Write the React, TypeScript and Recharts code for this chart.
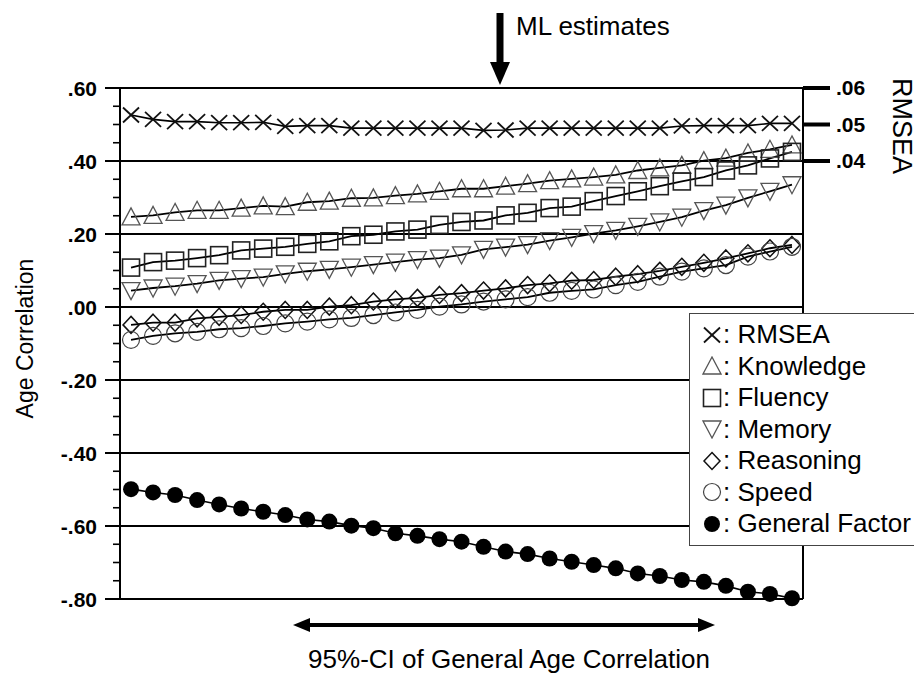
import React from 'react';
import { ComposedChart, Line, XAxis, YAxis, ReferenceLine, Label } from 'recharts';

const FONT = '"Liberation Sans", Arial, Helvetica, sans-serif';

// evaluation points across the 95%-CI of the general age correlation
const ciSteps = [0, 1, 2, 3, 4, 5, 6, 7, 8, 9, 10, 11, 12, 13, 14, 15, 16, 17, 18, 19, 20, 21, 22, 23, 24, 25, 26, 27, 28, 29, 30];

const rmsea = [0.0526, 0.0514, 0.0508, 0.0508, 0.0505, 0.0505, 0.0506, 0.0495, 0.0497, 0.0497, 0.049, 0.049, 0.049, 0.049, 0.049, 0.049, 0.0484, 0.0485, 0.049, 0.049, 0.049, 0.049, 0.049, 0.049, 0.049, 0.0496, 0.0497, 0.0497, 0.0497, 0.0503, 0.0503];
const knowledge = [0.247, 0.251, 0.259, 0.265, 0.265, 0.271, 0.277, 0.275, 0.287, 0.29, 0.298, 0.299, 0.305, 0.31, 0.317, 0.324, 0.324, 0.331, 0.338, 0.346, 0.351, 0.356, 0.362, 0.374, 0.381, 0.388, 0.401, 0.408, 0.422, 0.432, 0.444];
const fluency = [0.108, 0.123, 0.127, 0.134, 0.142, 0.155, 0.16, 0.165, 0.173, 0.18, 0.194, 0.198, 0.207, 0.212, 0.225, 0.233, 0.237, 0.251, 0.258, 0.271, 0.275, 0.29, 0.304, 0.317, 0.331, 0.344, 0.356, 0.374, 0.388, 0.407, 0.425];
const memory = [0.045, 0.052, 0.057, 0.064, 0.073, 0.078, 0.082, 0.091, 0.098, 0.103, 0.109, 0.116, 0.123, 0.13, 0.134, 0.143, 0.158, 0.164, 0.171, 0.182, 0.191, 0.201, 0.21, 0.221, 0.233, 0.246, 0.264, 0.279, 0.299, 0.317, 0.335];
const reasoning = [-0.049, -0.043, -0.043, -0.031, -0.027, -0.022, -0.013, -0.008, -0.008, 0.001, 0.005, 0.015, 0.021, 0.025, 0.033, 0.038, 0.045, 0.051, 0.06, 0.065, 0.072, 0.074, 0.083, 0.09, 0.099, 0.11, 0.121, 0.133, 0.147, 0.161, 0.17];
const speed = [-0.09, -0.079, -0.072, -0.068, -0.061, -0.058, -0.052, -0.045, -0.04, -0.034, -0.03, -0.022, -0.015, -0.008, 0.001, 0.007, 0.015, 0.021, 0.027, 0.039, 0.044, 0.048, 0.06, 0.069, 0.083, 0.097, 0.106, 0.115, 0.138, 0.152, 0.165];
const general = [-0.499, -0.508, -0.515, -0.529, -0.541, -0.552, -0.561, -0.57, -0.582, -0.588, -0.599, -0.606, -0.62, -0.627, -0.636, -0.643, -0.657, -0.67, -0.677, -0.689, -0.698, -0.707, -0.716, -0.73, -0.737, -0.748, -0.753, -0.764, -0.78, -0.786, -0.798];

const leftTicks = [-0.8, -0.75, -0.7, -0.65, -0.6, -0.55, -0.5, -0.45, -0.4, -0.35, -0.3, -0.25, -0.2, -0.15, -0.1, -0.05, 0, 0.05, 0.1, 0.15, 0.2, 0.25, 0.3, 0.35, 0.4, 0.45, 0.5, 0.55, 0.6];
const gridValues = [0.6, 0.4, 0.2, 0, -0.2, -0.4, -0.6, -0.8];
const rmseaTicks = [0.04, 0.05, 0.06];

const legendItems = [
  { kind: 'cross', name: 'RMSEA' },
  { kind: 'triUp', name: 'Knowledge' },
  { kind: 'square', name: 'Fluency' },
  { kind: 'triDown', name: 'Memory' },
  { kind: 'diamond', name: 'Reasoning' },
  { kind: 'circle', name: 'Speed' },
  { kind: 'dot', name: 'General Factor' },
];

const rows = ciSteps.map((step, i) => ({
  step,
  rmsea: rmsea[i],
  knowledge: knowledge[i],
  fluency: fluency[i],
  memory: memory[i],
  reasoning: reasoning[i],
  speed: speed[i],
  general: general[i],
}));

const fmt = (v: number) => {
  const s = Math.abs(v).toFixed(2).replace(/^0/, '');
  return v < -1e-9 ? '-' + s : s;
};

function Marker({ kind, cx, cy }: { kind: string; cx: number; cy: number }) {
  switch (kind) {
    case 'cross':
      return (
        <g stroke="#111" strokeWidth={1.8}>
          <line x1={cx - 8} y1={cy - 7.5} x2={cx + 8} y2={cy + 7.5} />
          <line x1={cx - 8} y1={cy + 7.5} x2={cx + 8} y2={cy - 7.5} />
        </g>
      );
    case 'triUp':
      return <polygon points={`${cx},${cy - 9} ${cx - 9},${cy + 8} ${cx + 9},${cy + 8}`} fill="none" stroke="#555" strokeWidth={1.3} />;
    case 'triDown':
      return <polygon points={`${cx},${cy + 9} ${cx - 9},${cy - 8} ${cx + 9},${cy - 8}`} fill="none" stroke="#555" strokeWidth={1.3} />;
    case 'square':
      return <rect x={cx - 8.5} y={cy - 8.5} width={17} height={17} fill="none" stroke="#222" strokeWidth={1.6} />;
    case 'diamond':
      return <polygon points={`${cx},${cy - 8.5} ${cx + 8},${cy} ${cx},${cy + 8.5} ${cx - 8},${cy}`} fill="none" stroke="#111" strokeWidth={1.5} />;
    case 'circle':
      return <circle cx={cx} cy={cy} r={8.5} fill="none" stroke="#444" strokeWidth={1.2} />;
    default:
      return <circle cx={cx} cy={cy} r={8} fill="#000" />;
  }
}

const makeDot = (kind: string) => (p: any) => <Marker key={`${kind}-${p.index}`} kind={kind} cx={p.cx} cy={p.cy} />;

function LeftTick(props: any) {
  const { x, y, payload } = props;
  const v = payload.value;
  const major = Math.round(v * 100) % 20 === 0;
  return (
    <g>
      <line x1={x - (major ? 15 : 7)} x2={x} y1={y} y2={y} stroke="#000" strokeWidth={major ? 2 : 1.6} />
      {major && (
        <text x={x - 23} y={y} textAnchor="end" dominantBaseline="central" fontFamily={FONT} fontWeight={700} fontSize={21} fill="#000">
          {fmt(v)}
        </text>
      )}
    </g>
  );
}

const LeftTitle = (props: any) => {
  const vb = props.viewBox;
  const cx = 17;
  const cy = vb.y + vb.height / 2 - 5;
  return (
    <text x={cx} y={cy} transform={`rotate(-90 ${cx} ${cy})`} textAnchor="middle" dominantBaseline="central" fontFamily={FONT} fontSize={23} fill="#000">
      Age Correlation
    </text>
  );
};

export default function App() {
  const series = [
    { key: 'rmsea', kind: 'cross', axis: 'right', width: 1.6 },
    { key: 'knowledge', kind: 'triUp', axis: 'left', width: 1.8 },
    { key: 'fluency', kind: 'square', axis: 'left', width: 1.8 },
    { key: 'memory', kind: 'triDown', axis: 'left', width: 1.8 },
    { key: 'reasoning', kind: 'diamond', axis: 'left', width: 1.8 },
    { key: 'speed', kind: 'circle', axis: 'left', width: 1.8 },
    { key: 'general', kind: 'dot', axis: 'left', width: 1.6 },
  ];

  return (
    <div style={{ position: 'relative', width: 906, height: 667, fontFamily: FONT }}>
      <ComposedChart width={906} height={667} data={rows} margin={{ top: 80, right: 0, bottom: 76, left: 0 }}>
        <XAxis type="number" dataKey="step" domain={[-0.5, 30.5]} hide />
        <YAxis
          yAxisId="left"
          orientation="left"
          width={112}
          domain={[-0.8, 0.6]}
          ticks={leftTicks}
          interval={0}
          tickSize={0}
          tickMargin={0}
          tickLine={false}
          axisLine={{ stroke: '#000', strokeWidth: 2 }}
          tick={<LeftTick />}
        >
          <Label content={<LeftTitle />} />
        </YAxis>
        <YAxis
          yAxisId="right"
          orientation="right"
          width={111}
          domain={[-0.08, 0.06]}
          ticks={rmseaTicks}
          interval={0}
          tickSize={27}
          tickMargin={6}
          tickFormatter={fmt}
          axisLine={{ stroke: '#000', strokeWidth: 2 }}
          tickLine={{ stroke: '#000', strokeWidth: 4 }}
          tick={{ fill: '#000', fontSize: 21, fontWeight: 700, fontFamily: FONT }}
        />
        {gridValues.map((v) => (
          <ReferenceLine key={v} yAxisId="left" y={v} stroke="#000" strokeWidth={2} />
        ))}
        {series.map((s) => (
          <Line
            key={s.key}
            yAxisId={s.axis}
            dataKey={s.key}
            type="linear"
            stroke="#000"
            strokeWidth={s.width}
            dot={makeDot(s.kind)}
            activeDot={false}
            isAnimationActive={false}
          />
        ))}
      </ComposedChart>

      <svg width={906} height={667} style={{ position: 'absolute', left: 0, top: 0, pointerEvents: 'none', overflow: 'visible' }}>
        <g transform="translate(-8,-8)">
          <line x1={500} y1={13} x2={500} y2={64} stroke="#000" strokeWidth={7} />
          <polygon points="490,62 510,62 500,85" fill="#000" />
          <text x={516} y={35} fontFamily={FONT} fontSize={26} fill="#000">ML estimates</text>
          <text x={902} y={126} transform="rotate(90 902 126)" textAnchor="middle" dominantBaseline="central" fontFamily={FONT} fontSize={27} fill="#000">RMSEA</text>
          <line x1={305} y1={625} x2={703} y2={625} stroke="#000" strokeWidth={4} />
          <polygon points="293,625 310,618 310,632" fill="#000" />
          <polygon points="715,625 698,618 698,632" fill="#000" />
          <text x={509} y={668} textAnchor="middle" fontFamily={FONT} fontSize={26} fill="#000">95%-CI of General Age Correlation</text>
        </g>
      </svg>

      <div
        style={{
          position: 'absolute',
          left: 681,
          top: 305,
          width: 233,
          height: 233,
          boxSizing: 'border-box',
          background: '#fff',
          border: '1.5px solid #444',
          padding: '5px 0 0 12px',
          fontSize: 26,
          color: '#000',
        }}
      >
        {legendItems.map((it) => (
          <div key={it.name} style={{ display: 'flex', alignItems: 'center', height: 31.5, whiteSpace: 'nowrap' }}>
            <svg width={20} height={20} style={{ flex: 'none' }}>
              <Marker kind={it.kind} cx={10} cy={10} />
            </svg>
            <span style={{ marginLeft: 1 }}>: {it.name}</span>
          </div>
        ))}
      </div>
    </div>
  );
}
